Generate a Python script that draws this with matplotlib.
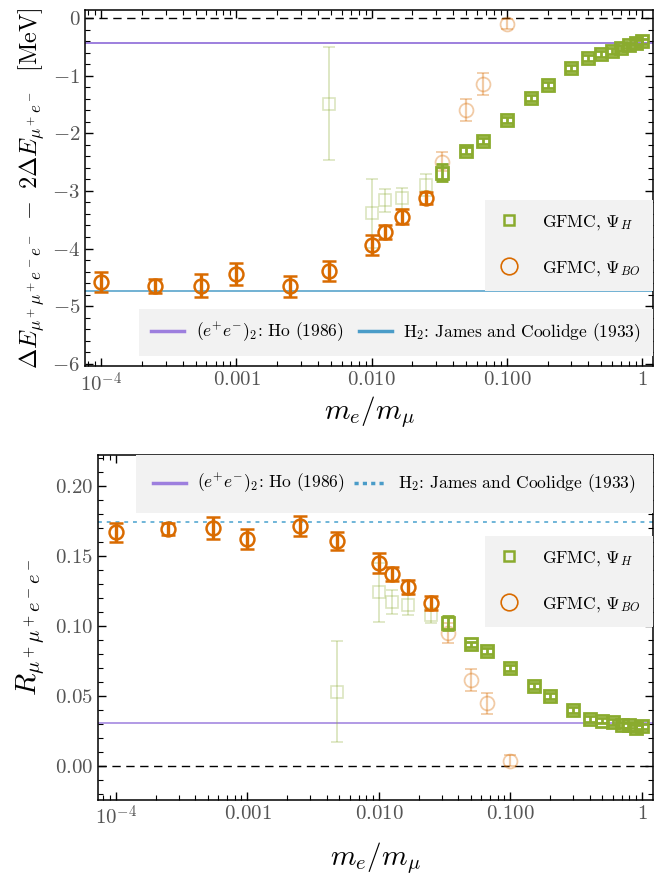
import numpy as np
import matplotlib
matplotlib.use("Agg")
import matplotlib.pyplot as plt
from matplotlib.lines import Line2D
from matplotlib.ticker import MultipleLocator, FuncFormatter, LogLocator, NullFormatter

plt.rcParams['font.family'] = 'serif'
plt.rcParams['font.serif'] = ['cmr10', 'DejaVu Serif']
plt.rcParams['mathtext.fontset'] = 'cm'
plt.rcParams['axes.unicode_minus'] = False

# mass ratios
x_bo = [1e-4, 2.5e-4, 5.446e-4, 1e-3, 2.5e-3, 4.836e-3, 0.01, 0.0125, 0.0167, 0.025]
x_bo_f = [0.0333, 0.05, 0.0667, 0.1]
x_h_f = [4.836e-3, 0.01, 0.0125, 0.0167, 0.025]
x_h = [0.0333, 0.05, 0.0667, 0.1, 0.15, 0.2, 0.3, 0.4, 0.5, 0.6, 0.7, 0.8, 0.9, 1.0]

# binding energy difference
E_bo = [-4.58, -4.65, -4.65, -4.44, -4.66, -4.39, -3.94, -3.71, -3.45, -3.12]
E_bo_err = [0.18, 0.12, 0.20, 0.19, 0.18, 0.18, 0.17, 0.12, 0.13, 0.11]
E_bo_f = [-2.49, -1.59, -1.14, -0.10]
E_bo_f_err = [0.17, 0.19, 0.19, 0.09]
E_h_f = [-1.48, -3.39, -3.16, -3.13, -2.90]
E_h_f_err = [0.98, 0.60, 0.20, 0.19, 0.19]
E_h = [-2.68, -2.30, -2.13, -1.77, -1.38, -1.16, -0.86, -0.69, -0.62, -0.56, -0.51, -0.47, -0.42, -0.40]
E_h_err = [0.15, 0.06, 0.05, 0.05, 0.05, 0.05, 0.05, 0.05, 0.05, 0.05, 0.05, 0.05, 0.05, 0.05]

# ratio R
R_bo = [0.1667, 0.169, 0.170, 0.1617, 0.1712, 0.1605, 0.145, 0.1367, 0.1279, 0.1164]
R_bo_err = [0.0067, 0.0045, 0.0077, 0.0071, 0.0071, 0.0064, 0.0071, 0.005, 0.005, 0.0048]
R_bo_f = [0.0946, 0.0612, 0.0446, 0.0036]
R_bo_f_err = [0.0071, 0.0076, 0.0076, 0.004]
R_h_f = [0.0529, 0.124, 0.117, 0.115, 0.1076]
R_h_f_err = [0.036, 0.021, 0.0083, 0.007, 0.0054]
R_h = [0.1017, 0.0867, 0.0819, 0.0696, 0.0569, 0.0498, 0.0398, 0.0334, 0.0322, 0.0314, 0.029, 0.0288, 0.027, 0.0281]
R_h_err = [0.005, 0.002, 0.002, 0.002, 0.002, 0.002, 0.002, 0.002, 0.002, 0.002, 0.002, 0.002, 0.002, 0.002]

# reference values
E_ps2 = -0.435
E_h2 = -4.747
R_ps2 = 0.0305
R_h2 = 0.1743

orange = '#D96B00'
green = '#8AAB2E'
purple = '#9D7FDE'
blue = '#4A9CC8'
tick_grey = '#555555'

xticks = [1e-4, 1e-3, 1e-2, 1e-1, 1]
xlabels = [r'$10^{-4}$', r'$0.001$', r'$0.010$', r'$0.100$', r'$1$']

fig = plt.figure(figsize=(6.55, 8.8), dpi=100)
ax1 = fig.add_axes([85/655, 1-366.4/880, 568/655, 356/880])
ax2 = fig.add_axes([98/655, 1-800/880, 555/655, 345/880])


def draw(ax, ybo, ybo_e, ybo_f, ybo_f_e, yhf, yhf_e, yh, yh_e):
    ax.errorbar(x_h_f, yhf, yerr=yhf_e, fmt='s', color=green, mfc='none', ms=9, mew=1.2,
                elinewidth=1.3, capsize=4.5, capthick=1.3, alpha=0.3, zorder=3)
    ax.errorbar(x_bo_f, ybo_f, yerr=ybo_f_e, fmt='o', color=orange, mfc='none', ms=10, mew=1.3,
                elinewidth=1.6, capsize=4.5, capthick=1.6, alpha=0.35, zorder=3)
    ax.errorbar(x_h, yh, yerr=yh_e, fmt='s', color=green, mfc='none', ms=8.5, mew=2.0,
                elinewidth=2.0, capsize=4.5, capthick=2.0, zorder=4)
    ax.errorbar(x_bo, ybo, yerr=ybo_e, fmt='o', color=orange, mfc='none', ms=10, mew=1.8,
                elinewidth=2.4, capsize=4.8, capthick=2.4, zorder=5)


def style(ax, pad):
    ax.set_xscale('log')
    ax.set_xticks(xticks)
    ax.set_xticklabels(xlabels)
    ax.xaxis.set_minor_locator(LogLocator(base=10, subs=np.arange(2, 10), numticks=20))
    ax.xaxis.set_minor_formatter(NullFormatter())
    ax.tick_params(which='both', direction='in', top=True, right=True, colors='black',
                   labelcolor=tick_grey, labelsize=15)
    ax.tick_params(which='major', length=6, width=1)
    ax.tick_params(which='minor', length=3.5, width=0.8)
    for s in ax.spines.values():
        s.set_linewidth(1.1)
    ax.set_xlabel(r'$m_e/m_\mu$', fontsize=21, labelpad=pad)


# top panel
draw(ax1, E_bo, E_bo_err, E_bo_f, E_bo_f_err, E_h_f, E_h_f_err, E_h, E_h_err)
ax1.axhline(0, color='black', lw=1, ls=(0, (6, 4)), zorder=1)
ax1.axhline(E_ps2, color=purple, lw=1.4, zorder=2)
ax1.axhline(E_h2, color=blue, lw=1.1, zorder=2)
ax1.set_xlim(10**-4.12, 10**0.08)
ax1.set_ylim(-6.05, 0.14)
style(ax1, -1)
ax1.yaxis.set_major_locator(MultipleLocator(1))
ax1.yaxis.set_minor_locator(MultipleLocator(0.2))
ax1.yaxis.set_major_formatter(FuncFormatter(lambda v, p: r'$%d$' % round(v)))
ax1.set_ylabel(r'$\Delta E_{\mu^+\mu^+e^-e^-}\ -\ 2\Delta E_{\mu^+e^-}$  [MeV]', fontsize=17.5,
               labelpad=4)

# bottom panel
draw(ax2, R_bo, R_bo_err, R_bo_f, R_bo_f_err, R_h_f, R_h_f_err, R_h, R_h_err)
ax2.axhline(0, color='black', lw=1, ls=(0, (6, 4)), zorder=1)
ax2.axhline(R_ps2, color=purple, lw=1.1, zorder=2)
ax2.axhline(R_h2, color='#6FB5D8', lw=1.4, ls=(0, (2, 2.5)), zorder=2)
ax2.set_xlim(10**-4.137, 10**0.084)
ax2.set_ylim(-0.0245, 0.222)
style(ax2, 8)
ax2.yaxis.set_major_locator(MultipleLocator(0.05))
ax2.yaxis.set_minor_locator(MultipleLocator(0.01))
ax2.yaxis.set_major_formatter(FuncFormatter(lambda v, p: r'$%.2f$' % v))
ax2.set_ylabel(r'$R_{\mu^+\mu^+e^-e^-}$', fontsize=21, labelpad=6)

# legends
leg_kw = dict(fontsize=12.5, frameon=True, facecolor='#F2F2F2', edgecolor='none', framealpha=1,
              fancybox=False, borderaxespad=0)
m_handles = [Line2D([], [], ls='none', marker='s', ms=7, mfc='none', mec=green, mew=1.8),
             Line2D([], [], ls='none', marker='o', ms=12, mfc='none', mec=orange, mew=1.2)]
m_labels = [r'GFMC, $\Psi_{H}$', r'GFMC, $\Psi_{BO}$']

top_lines = [Line2D([], [], color=purple, lw=2.5), Line2D([], [], color=blue, lw=2.5)]
bot_lines = [Line2D([], [], color=purple, lw=2.5),
             Line2D([], [], color='#4A9CC8', lw=2.5, ls=(0, (1.2, 1.2)))]
l_labels = [r'$(e^{+}e^{-})_{2}$: Ho (1986)', r'H$_2$: James and Coolidge (1933)']

line_kw = dict(ncol=2, handlelength=1.9, handletextpad=0.65)
mark_kw = dict(handlelength=1.2, handletextpad=1.3, labelspacing=1.55, borderpad=0.75)

lg1 = ax1.legend(top_lines, l_labels, loc='lower right', bbox_to_anchor=(1.0, 0.028),
                 borderpad=0.7, columnspacing=0.9, **line_kw, **leg_kw)
ax1.add_artist(lg1)
ax1.legend(m_handles, m_labels, loc='center right', bbox_to_anchor=(1.0, 0.34),
           **mark_kw, **leg_kw)

lg2 = ax2.legend(bot_lines, l_labels, loc='upper right', bbox_to_anchor=(1.0, 1.0),
                 borderpad=1.0, columnspacing=0.5, **line_kw, **leg_kw)
ax2.add_artist(lg2)
ax2.legend(m_handles, m_labels, loc='upper right', bbox_to_anchor=(1.0, 0.765),
           **mark_kw, **leg_kw)

fig.savefig('out.png', dpi=100)
